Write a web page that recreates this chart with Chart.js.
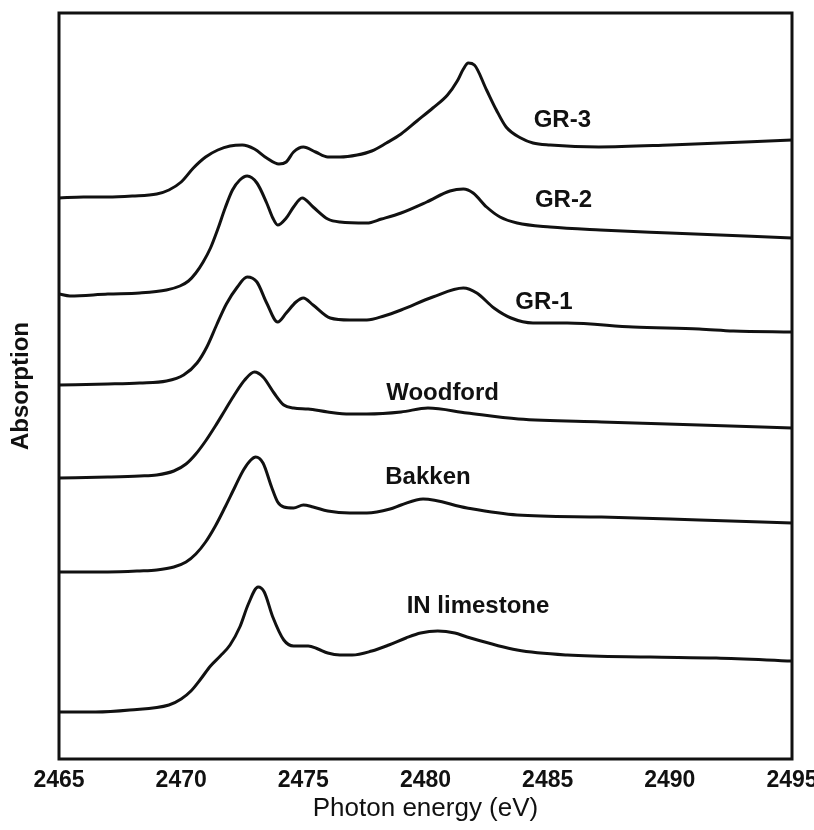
<!DOCTYPE html>
<html lang="en">
<head>
    <meta charset="UTF-8">
    <title>Sulfur K-edge XANES spectra</title>
    <script src="https://cdn.jsdelivr.net/npm/chart.js"></script>
    <style>
        body { margin: 0; background: #fff; }
        #wrap { width: 814px; height: 830px; }
    </style>
</head>
<body>
    <div id="wrap"><canvas id="xanesChart"></canvas></div>

    <script>
        // Photon energy (eV) and offset absorption for each spectrum, top to bottom
        const gr3Energy = [2465, 2466, 2467, 2468, 2469, 2469.5, 2470, 2470.5, 2471, 2471.5, 2472, 2472.5, 2473, 2473.5, 2474, 2474.3, 2474.6, 2475, 2475.5, 2476, 2476.5, 2477.2, 2477.8, 2478.4, 2479, 2479.65, 2480.3, 2480.9, 2481.3, 2481.55, 2481.75, 2482, 2482.5, 2482.9, 2483.3, 2483.9, 2484.4, 2485.1, 2487.1, 2490, 2495];
        const gr3Abs = [5.61, 5.62, 5.62, 5.63, 5.65, 5.69, 5.77, 5.91, 6.02, 6.09, 6.13, 6.14, 6.10, 6.01, 5.95, 5.97, 6.07, 6.12, 6.07, 6.02, 6.02, 6.04, 6.08, 6.16, 6.25, 6.38, 6.51, 6.64, 6.78, 6.90, 6.96, 6.94, 6.69, 6.49, 6.32, 6.21, 6.16, 6.14, 6.12, 6.14, 6.19];

        const gr2Energy = [2465, 2465.45, 2467, 2468.3, 2469.4, 2469.95, 2470.3, 2470.6, 2470.9, 2471.2, 2471.5, 2471.8, 2472.1, 2472.4, 2472.7, 2473.1, 2473.5, 2473.75, 2473.95, 2474.3, 2474.6, 2474.95, 2475.4, 2476, 2476.5, 2477.6, 2478.2, 2479, 2480.05, 2481, 2481.55, 2481.95, 2482.5, 2483.05, 2483.75, 2485.1, 2487.15, 2490, 2495];
        const gr2Abs = [4.65, 4.63, 4.65, 4.66, 4.69, 4.73, 4.78, 4.86, 4.97, 5.11, 5.30, 5.51, 5.69, 5.79, 5.83, 5.76, 5.56, 5.41, 5.34, 5.41, 5.52, 5.61, 5.52, 5.40, 5.37, 5.36, 5.40, 5.46, 5.57, 5.68, 5.70, 5.66, 5.52, 5.42, 5.36, 5.32, 5.29, 5.26, 5.21];

        const gr1Energy = [2465, 2467, 2468.3, 2469.4, 2470.1, 2470.65, 2471.05, 2471.45, 2471.85, 2472.3, 2472.7, 2473.1, 2473.5, 2473.95, 2474.3, 2474.7, 2475, 2475.4, 2476.1, 2476.9, 2477.6, 2478.3, 2479, 2480.3, 2481.55, 2482.1, 2482.8, 2483.5, 2484.4, 2485.8, 2488.5, 2491.2, 2492.6, 2495];
        const gr1Abs = [3.74, 3.75, 3.76, 3.78, 3.84, 3.96, 4.12, 4.34, 4.55, 4.72, 4.82, 4.77, 4.56, 4.37, 4.46, 4.57, 4.61, 4.54, 4.41, 4.39, 4.39, 4.43, 4.49, 4.62, 4.71, 4.66, 4.51, 4.41, 4.36, 4.36, 4.32, 4.30, 4.28, 4.27];

        const woodEnergy = [2465, 2467, 2468.3, 2469, 2469.7, 2470.2, 2470.6, 2471, 2471.4, 2471.8, 2472.2, 2472.6, 2473, 2473.35, 2473.8, 2474.2, 2474.6, 2475.2, 2476, 2476.9, 2477.6, 2479, 2480.1, 2481.7, 2483.8, 2487.2, 2491.2, 2495];
        const woodAbs = [2.81, 2.82, 2.83, 2.84, 2.88, 2.95, 3.05, 3.18, 3.33, 3.49, 3.65, 3.79, 3.87, 3.82, 3.66, 3.54, 3.51, 3.50, 3.47, 3.45, 3.45, 3.47, 3.51, 3.46, 3.40, 3.37, 3.34, 3.31];

        const bakkenEnergy = [2465, 2467, 2468.3, 2469, 2469.7, 2470.2, 2470.6, 2471, 2471.4, 2471.8, 2472.2, 2472.55, 2472.85, 2473.05, 2473.35, 2473.7, 2473.95, 2474.2, 2474.6, 2475, 2475.4, 2476, 2476.9, 2477.6, 2478.55, 2479, 2479.9, 2481.7, 2483.75, 2487.2, 2491.2, 2495];
        const bakkenAbs = [1.87, 1.87, 1.88, 1.89, 1.92, 1.97, 2.05, 2.17, 2.33, 2.52, 2.72, 2.89, 2.99, 3.02, 2.96, 2.72, 2.57, 2.52, 2.51, 2.54, 2.52, 2.48, 2.46, 2.46, 2.50, 2.54, 2.60, 2.51, 2.44, 2.42, 2.39, 2.36];

        const limeEnergy = [2465, 2466.5, 2467.9, 2469.5, 2470, 2470.4, 2470.8, 2471.2, 2471.6, 2472, 2472.4, 2472.75, 2473.15, 2473.4, 2473.75, 2474.2, 2474.6, 2475.2, 2475.6, 2476, 2476.5, 2477, 2477.8, 2478.5, 2479.2, 2479.8, 2480.5, 2481.2, 2481.7, 2483.75, 2485.8, 2489.2, 2491.9, 2495];
        const limeAbs = [0.47, 0.47, 0.49, 0.54, 0.60, 0.68, 0.80, 0.93, 1.03, 1.14, 1.32, 1.55, 1.72, 1.67, 1.42, 1.19, 1.13, 1.13, 1.10, 1.06, 1.04, 1.04, 1.08, 1.14, 1.21, 1.26, 1.28, 1.26, 1.22, 1.09, 1.04, 1.02, 1.01, 0.98];

        // Sample names written beside the curves
        const tagText = ['GR-3', 'GR-2', 'GR-1', 'Woodford', 'Bakken', 'IN limestone'];
        const tagEnergy = [2485.6, 2485.65, 2484.85, 2480.7, 2480.1, 2482.15];
        const tagAbs = [6.39, 5.59, 4.57, 3.66, 2.82, 1.53];

        const energyTicks = [2465, 2470, 2475, 2480, 2485, 2490, 2495];

        const ink = '#111';
        const face = "'Liberation Sans', Arial, Helvetica, sans-serif";

        const spectra = [
            [gr3Energy, gr3Abs],
            [gr2Energy, gr2Abs],
            [gr1Energy, gr1Abs],
            [woodEnergy, woodAbs],
            [bakkenEnergy, bakkenAbs],
            [limeEnergy, limeAbs]
        ];

        const curveTags = {
            id: 'curveTags',
            afterDatasetsDraw(chart) {
                const { ctx, scales: { x, y } } = chart;
                ctx.save();
                ctx.font = `bold 24px ${face}`;
                ctx.fillStyle = ink;
                ctx.textAlign = 'center';
                ctx.textBaseline = 'middle';
                tagText.forEach((t, i) => {
                    ctx.fillText(t, x.getPixelForValue(tagEnergy[i]), y.getPixelForValue(tagAbs[i]));
                });
                ctx.restore();
            }
        };

        // closed box around the plot area
        const frame = {
            id: 'frame',
            afterDraw(chart) {
                const { ctx, chartArea: a } = chart;
                ctx.save();
                ctx.strokeStyle = ink;
                ctx.lineWidth = 3;
                ctx.strokeRect(a.left, a.top, a.right - a.left, a.bottom - a.top);
                ctx.restore();
            }
        };

        new Chart(document.getElementById('xanesChart'), {
            type: 'line',
            data: {
                datasets: spectra.map(([e, a], k) => ({
                    label: tagText[k],
                    data: e.map((v, i) => ({ x: v, y: a[i] })),
                    borderColor: ink,
                    borderWidth: 3,
                    pointRadius: 0,
                    fill: false,
                    cubicInterpolationMode: 'monotone'
                }))
            },
            options: {
                responsive: true,
                maintainAspectRatio: false,
                devicePixelRatio: 1,
                animation: false,
                layout: { padding: { top: 13, right: 22, left: 0, bottom: 0 } },
                plugins: { legend: { display: false }, tooltip: { enabled: false } },
                scales: {
                    x: {
                        type: 'linear',
                        min: energyTicks[0],
                        max: energyTicks[energyTicks.length - 1],
                        grid: { display: false, drawTicks: false },
                        border: { display: false },
                        afterBuildTicks(scale) {
                            scale.ticks = energyTicks.map(v => ({ value: v }));
                        },
                        ticks: {
                            autoSkip: false,
                            maxRotation: 0,
                            padding: 8,
                            color: ink,
                            font: { family: face, size: 23, weight: 'bold' },
                            callback: v => String(v)
                        },
                        title: {
                            display: true,
                            text: 'Photon energy (eV)',
                            color: ink,
                            font: { family: face, size: 26 },
                            padding: { top: 0, bottom: 6 }
                        },
                        afterFit(scale) {
                            scale.height = 71;
                            scale.paddingLeft = 0;
                            scale.paddingRight = 0;
                        }
                    },
                    y: {
                        min: 0,
                        max: 7.46,
                        grid: { display: false, drawTicks: false },
                        border: { display: false },
                        ticks: { display: false },
                        title: {
                            display: true,
                            text: 'Absorption',
                            color: ink,
                            font: { family: face, size: 24, weight: 'bold' },
                            padding: { top: 7, bottom: 0 }
                        },
                        afterFit(scale) {
                            scale.width = 59;
                            scale.paddingTop = 0;
                            scale.paddingBottom = 0;
                        }
                    }
                }
            },
            plugins: [curveTags, frame]
        });
    </script>
</body>
</html>
